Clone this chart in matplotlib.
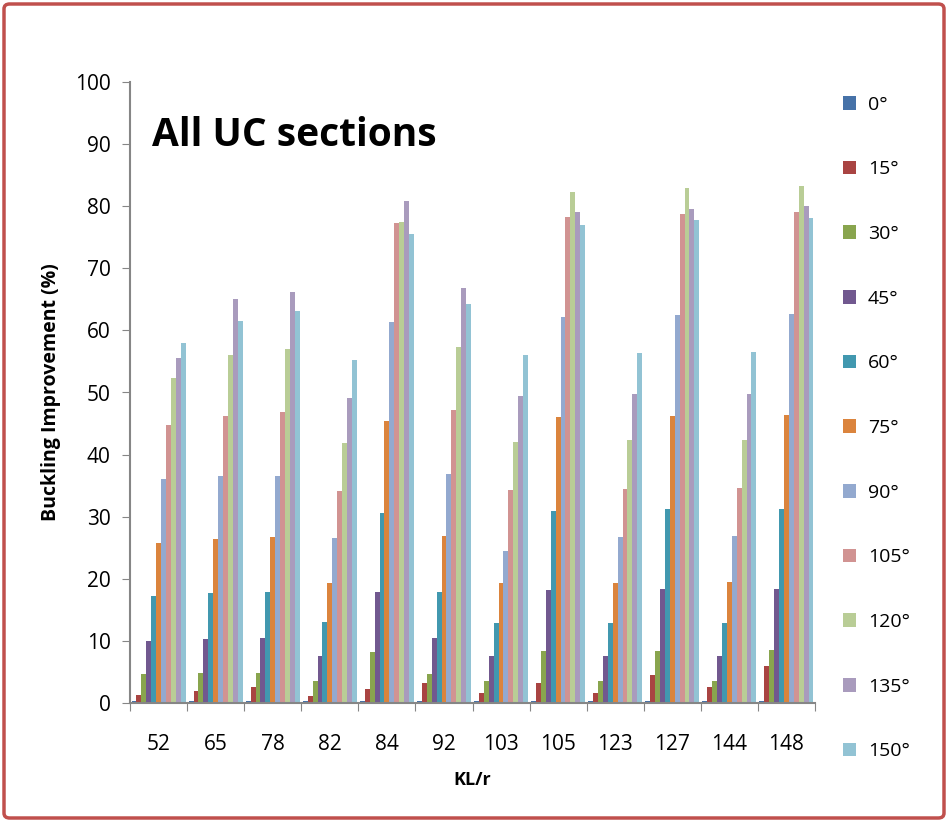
import matplotlib
matplotlib.use("Agg")
import matplotlib.pyplot as plt
import numpy as np
from matplotlib.patches import FancyBboxPatch

plt.rcParams['font.family'] = ['Open Sans', 'DejaVu Sans']

categories = ["52", "65", "78", "82", "84", "92", "103", "105", "123", "127", "144", "148"]
series_names = ["0°", "15°", "30°", "45°", "60°", "75°", "90°", "105°", "120°", "135°", "150°"]

v0   = [0.3, 0.3, 0.3, 0.3, 0.3, 0.3, 0.3, 0.3, 0.3, 0.3, 0.3, 0.3]
v15  = [1.3, 1.9, 2.6, 1.1, 2.2, 3.3, 1.6, 3.2, 1.6, 4.5, 2.6, 6.0]
v30  = [4.7, 4.8, 4.8, 3.6, 8.2, 4.7, 3.5, 8.3, 3.5, 8.4, 3.5, 8.5]
v45  = [10.0, 10.3, 10.5, 7.6, 17.9, 10.4, 7.5, 18.2, 7.5, 18.3, 7.6, 18.4]
v60  = [17.3, 17.7, 17.9, 13.0, 30.6, 17.9, 12.9, 30.9, 12.9, 31.2, 12.9, 31.2]
v75  = [25.8, 26.4, 26.7, 19.4, 45.4, 26.9, 19.4, 46.0, 19.4, 46.2, 19.5, 46.4]
v90  = [36.1, 36.6, 36.6, 26.6, 61.3, 36.8, 24.5, 62.1, 26.7, 62.4, 26.9, 62.6]
v105 = [44.8, 46.2, 46.9, 34.1, 77.3, 47.2, 34.3, 78.3, 34.5, 78.8, 34.7, 79.1]
v120 = [52.4, 56.1, 57.0, 41.9, 77.5, 57.4, 42.0, 82.3, 42.3, 82.9, 42.4, 83.3]
v135 = [55.5, 65.0, 66.2, 49.1, 80.9, 66.8, 49.5, 79.0, 49.7, 79.6, 49.8, 80.1]
v150 = [58.0, 61.5, 63.2, 55.2, 75.5, 64.2, 56.0, 77.0, 56.4, 77.7, 56.5, 78.1]

yticks = [0, 10, 20, 30, 40, 50, 60, 70, 80, 90, 100]

all_series = [v0, v15, v30, v45, v60, v75, v90, v105, v120, v135, v150]
colors = ["#4672A8", "#A94442", "#89A54E", "#71588F", "#4198AF", "#DB843D",
          "#93A9CF", "#D19392", "#B9CD96", "#A99BBD", "#92C3D4"]

fig = plt.figure(figsize=(9.48, 8.22), dpi=100)
ax = fig.add_axes([130/948, 1 - 703/822, 685/948, (703 - 82)/822])

n = len(all_series)
x = np.arange(len(categories))
w = 0.086
handles = []
for i, (vals, c, name) in enumerate(zip(all_series, colors, series_names)):
    offs = (i - (n - 1) / 2) * w
    b = ax.bar(x + offs, vals, width=w, color=c, edgecolor='none', label=name)
    handles.append(b)

ax.set_xlim(-0.5, len(categories) - 0.5)
ax.set_ylim(0, 100)
ax.set_yticks(yticks)
ax.set_yticklabels([str(t) for t in yticks], fontsize=15)
ax.set_xticks(np.arange(-0.5, len(categories)), minor=False)
ax.set_xticklabels([])
ax.set_xticks(x, minor=True)
ax.set_xticklabels(categories, minor=True, fontsize=15)
ax.tick_params(axis='x', which='minor', length=0, pad=22)
ax.tick_params(axis='x', which='major', length=6, color='#868686', direction='out')
ax.tick_params(axis='y', length=6, color='#868686', direction='out', pad=8)
for s in ['top', 'right']:
    ax.spines[s].set_visible(False)
for s in ['left', 'bottom']:
    ax.spines[s].set_color('#868686')
    ax.spines[s].set_linewidth(1.5)

ax.set_ylabel("Buckling Improvement (%)", fontsize=14, fontweight='bold', labelpad=10)
ax.set_xlabel("KL/r", fontsize=13, fontweight='bold', labelpad=12)
ax.text(0.032, 0.945, "All UC sections", transform=ax.transAxes, fontsize=28,
        fontweight='bold', va='top', ha='left')

fig.legend(handles=handles, labels=series_names, loc='upper left',
           bbox_to_anchor=(835/948, 1 - 88/822), frameon=False, fontsize=14,
           handlelength=0.7, handleheight=0.7, handletextpad=0.6,
           labelspacing=2.4, borderaxespad=0)

border = FancyBboxPatch((4/948, 4/822), 940/948, 814/822,
                        boxstyle="round,pad=0,rounding_size=0.006",
                        transform=fig.transFigure, fill=False,
                        edgecolor='#C0504D', linewidth=2.5)
fig.patches.append(border)

fig.savefig("out.png", dpi=100)
